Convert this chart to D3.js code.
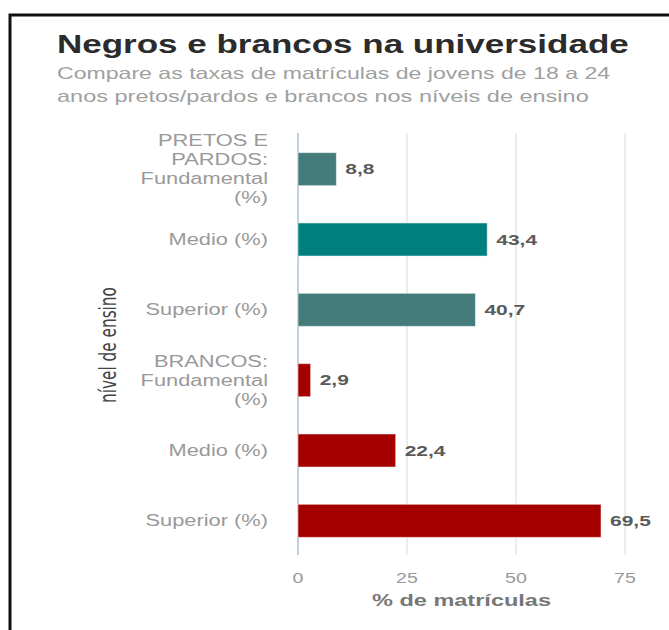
<!DOCTYPE html>
<html>
<head>
<meta charset="utf-8">
<script src="https://cdn.jsdelivr.net/npm/d3@7"></script>
<style>
  body { margin: 0; background: #fff; }
  svg { display: block; font-family: "Liberation Sans", Arial, sans-serif; }
</style>
</head>
<body>
<svg id="chart"></svg>
<script>
const rowKeys = ['pp-fund', 'pp-medio', 'pp-sup', 'br-fund', 'br-medio', 'br-sup']
const rowLabels = [
    ['PRETOS E', 'PARDOS:', 'Fundamental', '(%)'],
    ['Medio (%)'],
    ['Superior (%)'],
    ['BRANCOS:', 'Fundamental', '(%)'],
    ['Medio (%)'],
    ['Superior (%)']
]
const values = [8.8, 43.4, 40.7, 2.9, 22.4, 69.5]
const valueLabels = ['8,8', '43,4', '40,7', '2,9', '22,4', '69,5']
const barColors = ['#437c7b', '#007f7f', '#437c7b', '#a50000', '#a50000', '#a50000']
const xTicks = [0, 25, 50, 75]

const width = 669, height = 630
// the original picture is stretched sideways, text is widened to match
const SX = 1.4

const svg = d3.select('#chart')
    .attr('width', width)
    .attr('height', height)

// frame
svg.append('rect')
    .attr('x', 10)
    .attr('y', 15)
    .attr('width', 700)
    .attr('height', 700)
    .attr('fill', 'none')
    .attr('stroke', '#111')
    .attr('stroke-width', 3)

function addText(parent, x, y, txt) {
    return parent.append('text')
        .attr('transform', `translate(${x},${y}) scale(${SX},1)`)
        .text(txt)
}

addText(svg, 57, 53, 'Negros e brancos na universidade')
    .attr('font-size', 25)
    .attr('font-weight', 'bold')
    .attr('fill', '#2b2b2b')

addText(svg, 57, 79, 'Compare as taxas de matrículas de jovens de 18 a 24')
    .attr('font-size', 16.5)
    .attr('fill', '#a0a0a0')
addText(svg, 57, 102, 'anos pretos/pardos e brancos nos níveis de ensino')
    .attr('font-size', 16.8)
    .attr('fill', '#a0a0a0')

const xScale = d3.scaleLinear()
    .domain([0, 75])
    .range([298, 625])

const yScale = d3.scaleBand()
    .domain(rowKeys)
    .range([134, 556])
    .paddingInner(0.53)
    .paddingOuter(0.265)

// grid
svg.append('g')
    .selectAll('line')
    .data(xTicks)
    .join('line')
    .attr('x1', d => xScale(d))
    .attr('x2', d => xScale(d))
    .attr('y1', 133)
    .attr('y2', 555)
    .attr('stroke', d => d === 0 ? '#c3d0e2' : '#ececec')
    .attr('stroke-width', 2)

// tick labels
svg.append('g')
    .selectAll('text')
    .data(xTicks)
    .join('text')
    .attr('transform', d => `translate(${xScale(d)},583) scale(${SX},1)`)
    .attr('text-anchor', 'middle')
    .attr('font-size', 14)
    .attr('fill', '#999')
    .text(d => d)

addText(svg, (xScale(0) + xScale(75)) / 2, 606, '% de matrículas')
    .attr('text-anchor', 'middle')
    .attr('font-size', 16.8)
    .attr('font-weight', 'bold')
    .attr('fill', '#777')

svg.append('text')
    .attr('transform', 'translate(116,345) rotate(-90) scale(1,1.4)')
    .attr('text-anchor', 'middle')
    .attr('font-family', '"Liberation Sans Narrow", "DejaVu Sans Condensed", sans-serif')
    .attr('font-size', 17)
    .attr('fill', '#444')
    .text('nível de ensino')

// bars
svg.append('g')
    .selectAll('rect')
    .data(rowKeys)
    .join('rect')
    .attr('x', xScale(0))
    .attr('y', d => yScale(d))
    .attr('width', (d, i) => xScale(values[i]) - xScale(0))
    .attr('height', yScale.bandwidth())
    .attr('fill', (d, i) => barColors[i])
    .attr('stroke', 'rgba(255,255,255,0.5)')

// value labels
svg.append('g')
    .selectAll('text')
    .data(rowKeys)
    .join('text')
    .attr('transform', (d, i) => `translate(${xScale(values[i]) + 9},${yScale(d) + yScale.bandwidth() / 2}) scale(${SX},1)`)
    .attr('dy', '0.35em')
    .attr('font-size', 15)
    .attr('font-weight', 'bold')
    .attr('fill', '#5a5a5a')
    .text((d, i) => valueLabels[i])

// category labels, multi line
const lineH = 19
const cats = svg.append('g')
    .selectAll('text')
    .data(rowKeys)
    .join('text')
    .attr('transform', d => `translate(268,${yScale(d) + yScale.bandwidth() / 2}) scale(${SX},1)`)
    .attr('text-anchor', 'end')
    .attr('font-size', 15.6)
    .attr('fill', '#999')

cats.each(function(d, i) {
    const lines = rowLabels[i]
    const t = d3.select(this)
    lines.forEach((ln, j) => {
        t.append('tspan')
            .attr('x', 0)
            .attr('y', (j - (lines.length - 1) / 2) * lineH)
            .attr('dy', '0.35em')
            .text(ln)
    })
})
</script>
</body>
</html>
